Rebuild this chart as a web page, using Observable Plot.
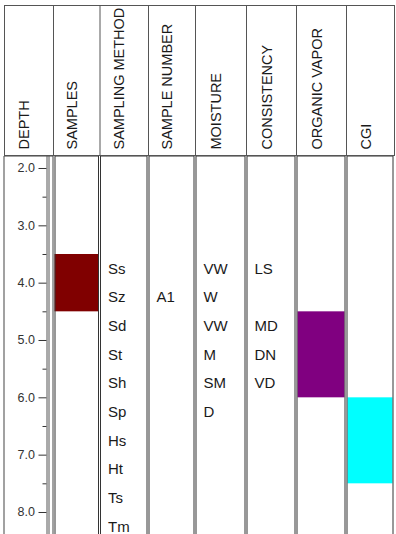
<!DOCTYPE html>
<html><head><meta charset="utf-8">
<script src="https://cdn.jsdelivr.net/npm/d3@7"></script>
<script src="https://cdn.jsdelivr.net/npm/@observablehq/plot@0.6"></script>
<style>
html,body{margin:0;padding:0;background:#fff;}
#chart svg{display:block;}
</style></head><body><div id="chart"></div>
<script>
// ---- data ----
const columns = ["DEPTH","SAMPLES","SAMPLING METHOD","SAMPLE NUMBER","MOISTURE","CONSISTENCY","ORGANIC VAPOR","CGI"];
const majorTicks = [2,3,4,5,6,7,8];
const minorTicks = [2.5,3.5,4.5,5.5,6.5,7.5];

const intervalColumns = ["SAMPLES","ORGANIC VAPOR","CGI"];
const intervalTops    = [3.5, 4.5, 6.0];
const intervalBottoms = [4.5, 6.0, 7.5];
const intervalColors  = ["#800000","#800080","#00ffff"];

const samplingMethodCodes  = ["Ss","Sz","Sd","St","Sh","Sp","Hs","Ht","Ts","Tm"];
const samplingMethodDepths = [3.75,4.25,4.75,5.25,5.75,6.25,6.75,7.25,7.75,8.25];
const sampleNumbers        = ["A1"];
const sampleNumberDepths   = [4.25];
const moistureCodes        = ["VW","W","VW","M","SM","D"];
const moistureDepths       = [3.75,4.25,4.75,5.25,5.75,6.25];
const consistencyCodes     = ["LS","MD","DN","VD"];
const consistencyDepths    = [3.75,4.75,5.25,5.75];

// ---- tables ----
const col = name => columns.indexOf(name);
const intervals = intervalColumns.map((c,i) => ({column:c, top:intervalTops[i], bottom:intervalBottoms[i], color:intervalColors[i]}));
const rows = [];
samplingMethodCodes.forEach((t,i)=>rows.push({column:"SAMPLING METHOD", label:t, depth:samplingMethodDepths[i]}));
sampleNumbers.forEach((t,i)=>rows.push({column:"SAMPLE NUMBER", label:t, depth:sampleNumberDepths[i]}));
moistureCodes.forEach((t,i)=>rows.push({column:"MOISTURE", label:t, depth:moistureDepths[i]}));
consistencyCodes.forEach((t,i)=>rows.push({column:"CONSISTENCY", label:t, depth:consistencyDepths[i]}));

const font = "'Liberation Sans', Arial, sans-serif";
// column edges (piecewise-linear range of the column-index scale)
const xScale = {type:"linear", domain:d3.range(columns.length + 1), range:[4, 53, 99.5, 148, 195, 246, 296, 346, 394], axis:null};

const header = Plot.plot({
  width:396, height:156, marginTop:5, marginBottom:1, marginLeft:4, marginRight:2,
  x: xScale,
  y: {domain:[0,1], axis:null},
  style:{fontFamily:font, background:"#fff"},
  marks:[
    Plot.frame({stroke:"#555"}),
    Plot.ruleX(d3.range(1, columns.length), {x:d=>d, stroke:"#555"}),
    Plot.text(columns, {x:d=>col(d)+0.5, text:d=>d, frameAnchor:"bottom", dy:-6, rotate:-90,
      textAnchor:"start", fontSize:14.5, fill:"#1a1a1a"})
  ]
});

const body = Plot.plot({
  width:396, height:378, marginTop:0, marginBottom:0, marginLeft:46.5, marginRight:2,
  x: xScale,
  y: {domain:[1.7907, 8.384], range:[0, 378], label:null},
  style:{fontFamily:font, background:"#fff"},
  marks:[
    Plot.rect(intervals, {x1:d=>col(d.column), x2:d=>col(d.column)+1, y1:"top", y2:"bottom",
      fill:"color", insetLeft:1.5, insetRight:1.5}),
    Plot.rect([columns[0]], {x1:d=>col(d), x2:d=>col(d)+1, insetBottom:-3,
      fill:"none", stroke:"#444"}),
    Plot.rect([columns[1]], {x1:d=>col(d), x2:d=>col(d)+1, insetLeft:2, insetRight:1, insetBottom:-3,
      fill:"none", stroke:"#333"}),
    Plot.rect(columns.slice(2), {x1:d=>col(d), x2:d=>col(d)+1, insetLeft:1, insetRight:1, insetBottom:-3,
      fill:"none", stroke:"#333"}),
    Plot.text(rows, {x:d=>col(d.column), y:"depth", text:"label", dx:8, textAnchor:"start",
      fontSize:15, fill:"#1a1a1a"}),
    Plot.axisY(majorTicks, {anchor:"left", tickSize:8, tickPadding:4, tickFormat:d3.format(".1f"),
      fontSize:12.5, stroke:"#333", fill:"#333", label:null}),
    Plot.axisY(minorTicks, {anchor:"left", tickSize:4, tickFormat:()=>"", stroke:"#333", label:null}),
    Plot.frame({anchor:"left", stroke:"#555"}),
    Plot.frame({anchor:"left", dx:2, stroke:"#555"})
  ]
});

const root = document.getElementById("chart");
root.appendChild(header);
root.appendChild(body);
</script></body></html>
